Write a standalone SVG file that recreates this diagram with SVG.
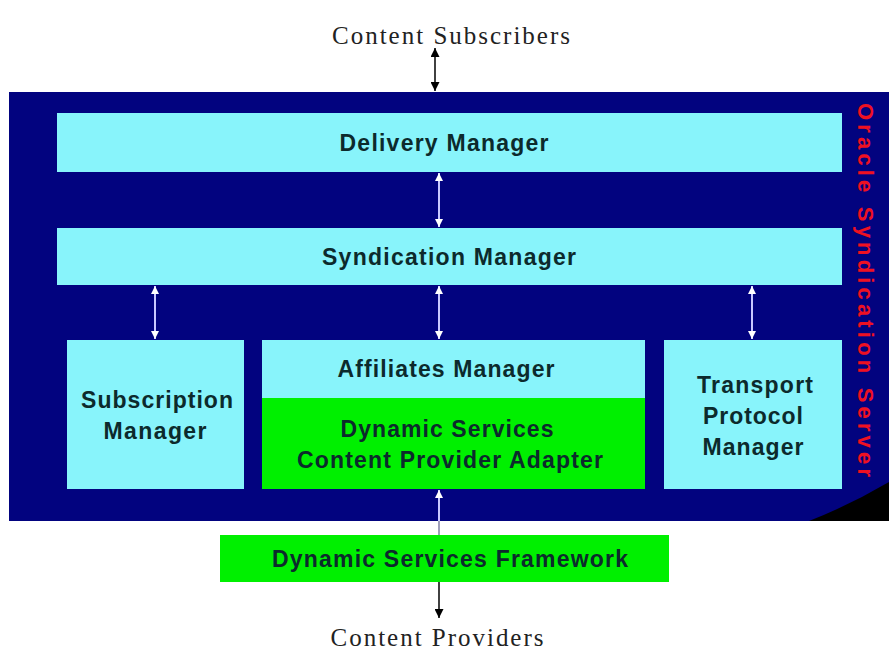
<svg xmlns="http://www.w3.org/2000/svg" width="889" height="651" viewBox="0 0 889 651">
<defs>
<style>
.lbl{font-family:"Liberation Sans",Arial,sans-serif;font-weight:bold;font-size:23px;fill:#0c2a2c;text-anchor:middle}
.ext{font-family:"Liberation Serif","Times New Roman",serif;font-size:25px;fill:#222;text-anchor:middle}
.cyan{fill:#88f4fb}
.green{fill:#00f000}
.wl{stroke:#c8c8ff;stroke-width:2;fill:none}
.bl{stroke:#111;stroke-width:1.6;fill:none}
</style>
<marker id="wh" viewBox="0 0 10 10" refX="10" refY="5" markerWidth="8" markerHeight="8" markerUnits="userSpaceOnUse" orient="auto-start-reverse">
<path d="M0,0 L10,5 L0,10 z" fill="#ffffff"/>
</marker>
<marker id="bh" viewBox="0 0 10 10" refX="10" refY="5" markerWidth="9" markerHeight="9" markerUnits="userSpaceOnUse" orient="auto-start-reverse">
<path d="M0,0 L10,5 L0,10 z" fill="#000000"/>
</marker>
</defs>
<rect width="889" height="651" fill="#ffffff"/>
<g id="server">
<rect x="9" y="92" width="880" height="429" fill="#02037f"/>
<path d="M809,521 Q850,505 889,482 L889,521 Z" fill="#000000"/>
<text x="0" y="0" transform="translate(858,290) rotate(90)" font-family="'Liberation Sans',Arial,sans-serif" font-weight="bold" font-size="22" fill="#ee1122" text-anchor="middle" textLength="374" lengthAdjust="spacing">Oracle Syndication Server</text>
</g>
<g id="delivery">
<rect class="cyan" x="57" y="113" width="785" height="59"/>
<text class="lbl" x="444" y="151" textLength="209" lengthAdjust="spacing">Delivery Manager</text>
</g>
<g id="syndication">
<rect class="cyan" x="57" y="228" width="785" height="57"/>
<text class="lbl" x="449" y="265" textLength="254" lengthAdjust="spacing">Syndication Manager</text>
</g>
<g id="subscription">
<rect class="cyan" x="67" y="340" width="177" height="149"/>
<text class="lbl" x="157" y="408" textLength="152" lengthAdjust="spacing">Subscription</text>
<text class="lbl" x="155" y="439" textLength="103" lengthAdjust="spacing">Manager</text>
</g>
<g id="affiliates">
<rect class="cyan" x="262" y="340" width="383" height="58"/>
<text class="lbl" x="446" y="377" textLength="217" lengthAdjust="spacing">Affiliates Manager</text>
</g>
<g id="adapter">
<rect class="green" x="262" y="398" width="383" height="91"/>
<text class="lbl" x="447" y="437" textLength="213" lengthAdjust="spacing">Dynamic Services</text>
<text class="lbl" x="450" y="468" textLength="306" lengthAdjust="spacing">Content Provider Adapter</text>
</g>
<g id="transport">
<rect class="cyan" x="664" y="340" width="178" height="149"/>
<text class="lbl" x="755" y="393" textLength="116" lengthAdjust="spacing">Transport</text>
<text class="lbl" x="753" y="424" textLength="100" lengthAdjust="spacing">Protocol</text>
<text class="lbl" x="753" y="455" textLength="101" lengthAdjust="spacing">Manager</text>
</g>
<g id="framework">
<rect class="green" x="220" y="535" width="449" height="47"/>
<text class="lbl" x="450" y="567" textLength="356" lengthAdjust="spacing">Dynamic Services Framework</text>
</g>
<g id="subscribers">
<text class="ext" x="451" y="44" textLength="238" lengthAdjust="spacing">Content Subscribers</text>
</g>
<g id="providers">
<text class="ext" x="437" y="646" textLength="213" lengthAdjust="spacing">Content Providers</text>
</g>
<g id="connectors">
<line class="bl" x1="435" y1="48" x2="435" y2="91" marker-start="url(#bh)" marker-end="url(#bh)"/>
<line class="wl" x1="439" y1="173" x2="439" y2="227" marker-start="url(#wh)" marker-end="url(#wh)"/>
<line class="wl" x1="155" y1="286" x2="155" y2="339" marker-start="url(#wh)" marker-end="url(#wh)"/>
<line class="wl" x1="439" y1="286" x2="439" y2="339" marker-start="url(#wh)" marker-end="url(#wh)"/>
<line class="wl" x1="752" y1="286" x2="752" y2="339" marker-start="url(#wh)" marker-end="url(#wh)"/>
<line class="wl" x1="439" y1="521" x2="439" y2="490" marker-end="url(#wh)"/>
<line x1="439" y1="521" x2="439" y2="535" stroke="#8888aa" stroke-width="1.6"/>
<line class="bl" x1="439" y1="582" x2="439" y2="618" marker-end="url(#bh)"/>
</g>
</svg>
